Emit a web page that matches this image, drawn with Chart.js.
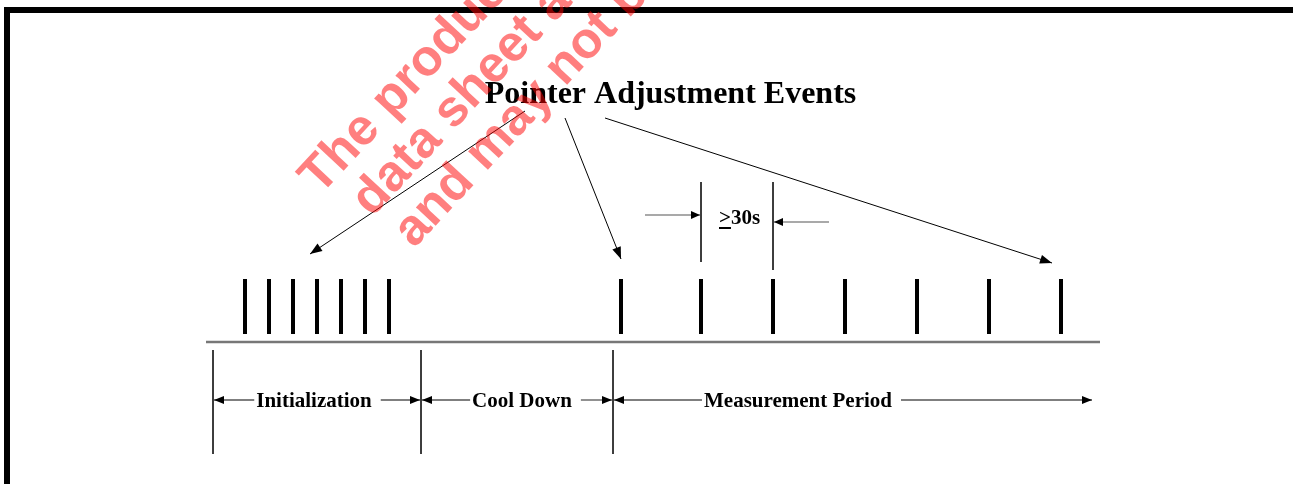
<!DOCTYPE html>
<html>
<head>
<meta charset="utf-8">
<script src="https://cdn.jsdelivr.net/npm/chart.js@4/dist/chart.umd.min.js"></script>
<style>
  html, body { margin: 0; padding: 0; background: #fff; }
  #wrap { width: 1293px; height: 484px; }
</style>
</head>
<body>
<div id="wrap"><canvas id="diagram" width="1293" height="484"></canvas></div>
<script>
// diagram units: x = position along the timeline, y = row (0 at top)
const titleText = "Pointer Adjustment Events";
const initEvents = [245, 269, 293, 317, 341, 365, 389];
const measureEvents = [621, 701, 773, 845, 917, 989, 1061];
const phaseNames = ["Initialization", "Cool Down", "Measurement Period"];
const phaseBounds = [213, 421, 613, 1093];
const phaseLabelX = [314, 522, 798];
const intervalLabel = "30s";
const pointerFrom = [[525, 111], [565, 118], [605, 118]];
const pointerTo = [[310, 254], [621, 259], [1052, 263]];
const watermarkLines = ["The products described in this", "data sheet are", "and may not be"];

const SERIF = '"Liberation Serif", "Times New Roman", serif';
const labelFont = "bold 21px " + SERIF;

// measure label widths so the arrow shafts stop at the text
const mctx = document.createElement("canvas").getContext("2d");
mctx.font = labelFont;
const labelWidths = phaseNames.map((t) => mctx.measureText(t).width);

const vlines = (xs, y0, y1) => {
  const pts = [];
  xs.forEach((x, i) => {
    const top = Array.isArray(y0) ? y0[i] : y0;
    const bot = Array.isArray(y1) ? y1[i] : y1;
    pts.push({ x: x, y: top }, { x: x, y: bot }, { x: x, y: null });
  });
  return pts;
};

const line = (data, color, width, extra) =>
  Object.assign(
    {
      data: data,
      showLine: true,
      borderColor: color,
      borderWidth: width,
      pointRadius: 0,
      borderCapStyle: "butt",
      spanGaps: false,
      tension: 0,
    },
    extra || {}
  );

const arrow = (from, to, color, width, head) =>
  line([{ x: from[0], y: from[1] }, { x: to[0], y: to[1] }], color, width, { arrowHead: head });

const datasets = [];
// page frame
datasets.push(line([{ x: 7, y: 500 }, { x: 7, y: 10 }, { x: 1310, y: 10 }], "#000", 6, { borderJoinStyle: "miter" }));
// timeline
datasets.push(line([{ x: 206, y: 342 }, { x: 1100, y: 342 }], "#777", 2.5));
// adjustment events
datasets.push(line(vlines(initEvents.concat(measureEvents), 279, 334), "#000", 4));
// phase boundaries
datasets.push(line(vlines(phaseBounds.slice(0, 3), 350, 454), "#222", 1));
// >=30s markers
datasets.push(line(vlines([measureEvents[1], measureEvents[2]], [182, 182], [262, 270]), "#222", 1));
datasets.push(arrow([645, 215], [measureEvents[1] - 1, 215], "#555", 1.2, [9, 4]));
datasets.push(arrow([829, 222], [measureEvents[2] + 1, 222], "#555", 1.2, [9, 4]));
// pointer arrows from the title
pointerFrom.forEach((f, i) => datasets.push(arrow(f, pointerTo[i], "#000", 1, [12, 4.5])));
// phase span arrows
phaseNames.forEach((name, i) => {
  const left = phaseLabelX[i] - labelWidths[i] / 2;
  const right = phaseLabelX[i] + labelWidths[i] / 2;
  const y = 400;
  datasets.push(arrow([left - 2, y], [phaseBounds[i] + 1, y], "#555", 1.3, [10, 4]));
  datasets.push(arrow([right + 9, y], [phaseBounds[i + 1] - 1, y], "#555", 1.3, [10, 4]));
});

const diagramPlugin = {
  id: "diagram",
  afterDatasetsDraw(chart) {
    const { ctx, scales } = chart;
    const px = (x) => scales.x.getPixelForValue(x);
    const py = (y) => scales.y.getPixelForValue(y);
    ctx.save();
    // arrow heads
    chart.data.datasets.forEach((ds) => {
      if (!ds.arrowHead) return;
      const a = ds.data[0];
      const b = ds.data[1];
      const x0 = px(a.x), y0 = py(a.y), x1 = px(b.x), y1 = py(b.y);
      const ang = Math.atan2(y1 - y0, x1 - x0);
      const [len, half] = ds.arrowHead;
      ctx.fillStyle = "#000";
      ctx.beginPath();
      ctx.moveTo(x1, y1);
      ctx.lineTo(x1 - len * Math.cos(ang) - half * Math.sin(ang), y1 - len * Math.sin(ang) + half * Math.cos(ang));
      ctx.lineTo(x1 - len * Math.cos(ang) + half * Math.sin(ang), y1 - len * Math.sin(ang) - half * Math.cos(ang));
      ctx.closePath();
      ctx.fill();
    });
    // texts
    ctx.fillStyle = "#000";
    ctx.textBaseline = "alphabetic";
    ctx.textAlign = "center";
    ctx.font = "bold 32px " + SERIF;
    ctx.fillText(titleText, px(670.5), py(103));
    ctx.font = labelFont;
    phaseNames.forEach((name, i) => ctx.fillText(name, px(phaseLabelX[i]), py(407)));
    // ">30s" with the underlined ">" meaning "at least"
    ctx.textAlign = "left";
    const gx = px(719);
    ctx.fillText(">", gx, py(224));
    const gw = ctx.measureText(">").width;
    ctx.fillText(intervalLabel, gx + gw, py(224));
    ctx.strokeStyle = "#000";
    ctx.lineWidth = 2;
    ctx.beginPath();
    ctx.moveTo(gx, py(228));
    ctx.lineTo(gx + gw, py(228));
    ctx.stroke();
    ctx.restore();
  },
  afterDraw(chart) {
    const { ctx } = chart;
    const anchors = [[320, 196], [372, 218], [414, 249]];
    ctx.save();
    ctx.font = 'bold 51px "Liberation Sans", Arial, sans-serif';
    ctx.fillStyle = "rgba(255, 0, 0, 0.5)";
    ctx.textAlign = "left";
    ctx.textBaseline = "alphabetic";
    watermarkLines.forEach((t, i) => {
      ctx.save();
      ctx.translate(anchors[i][0], anchors[i][1]);
      ctx.rotate((-47 * Math.PI) / 180);
      ctx.fillText(t, 0, 0);
      ctx.restore();
    });
    ctx.restore();
  },
};

const myChart = new Chart(document.getElementById("diagram"), {
  type: "scatter",
  data: { datasets: datasets },
  options: {
    responsive: false,
    devicePixelRatio: 1,
    animation: false,
    events: [],
    layout: { padding: 0 },
    plugins: {
      legend: { display: false },
      tooltip: { enabled: false },
      title: { display: false },
    },
    scales: {
      x: { type: "linear", min: 0, max: 1293, display: false },
      y: { type: "linear", min: 0, max: 484, reverse: true, display: false },
    },
  },
  plugins: [diagramPlugin],
});
</script>
</body>
</html>
